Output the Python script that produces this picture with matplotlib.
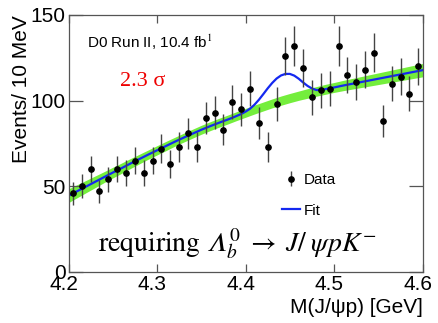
# -*- coding: utf-8 -*-

"""
J/psi p invariant mass spectrum with background band and signal fit.
"""

# *****************************************************************************
# *** Import modules
import numpy as np
import matplotlib
matplotlib.use('Agg')
import matplotlib.pyplot as plt
import matplotlib.transforms as mtransforms
from matplotlib.lines import Line2D
# *****************************************************************************


# *****************************************************************************
# *** Data

# Bin centres of the 10 MeV mass bins [GeV]:
lstMass = [4.205, 4.215, 4.225, 4.235, 4.245, 4.255, 4.265, 4.275, 4.285,
           4.295, 4.305, 4.315, 4.325, 4.335, 4.345, 4.355, 4.365, 4.375,
           4.385, 4.395, 4.405, 4.415, 4.425, 4.435, 4.445, 4.455, 4.465,
           4.475, 4.485, 4.495, 4.505, 4.515, 4.525, 4.535, 4.545, 4.555,
           4.565, 4.575, 4.585, 4.595]

# Events per bin:
lstCounts = [46, 50, 60, 47, 54, 60, 58, 65, 58, 65,
             72, 63, 73, 81, 73, 90, 93, 83, 99, 95,
             107, 87, 73, 98, 126, 132, 119, 102, 106, 107,
             132, 115, 111, 118, 128, 88, 110, 114, 104, 120]

# Background model (centre and half width of the band):
lstBkgMass = [4.20, 4.21, 4.22, 4.23, 4.24, 4.25, 4.26, 4.27, 4.28, 4.29,
              4.30, 4.31, 4.32, 4.33, 4.34, 4.35, 4.36, 4.37, 4.38, 4.39,
              4.40, 4.41, 4.42, 4.43, 4.44, 4.45, 4.46, 4.47, 4.48, 4.49,
              4.50, 4.51, 4.52, 4.53, 4.54, 4.55, 4.56, 4.57, 4.58, 4.59,
              4.60]
lstBkg = [44.5, 47.2, 49.9, 52.6, 55.3, 58.0, 60.6, 63.3, 65.9, 68.5,
          71.0, 73.5, 76.0, 78.4, 80.7, 83.0, 85.1, 87.1, 89.0, 91.0,
          92.9, 94.8, 96.6, 98.4, 100.0, 101.5, 102.9, 104.2, 105.4, 106.6,
          107.7, 108.8, 109.8, 110.8, 111.8, 112.8, 113.8, 114.8, 115.8,
          116.8, 117.8]
lstBkgErr = [4.0, 3.8, 3.6, 3.4, 3.2, 3.1, 3.0, 2.9, 2.8, 2.7,
             2.7, 2.7, 2.6, 2.6, 2.6, 2.6, 2.6, 2.6, 2.6, 2.6,
             2.6, 2.6, 2.6, 2.6, 2.7, 2.7, 2.7, 2.8, 2.8, 2.9,
             2.9, 3.0, 3.1, 3.2, 3.3, 3.4, 3.5, 3.6, 3.7, 3.8,
             3.9]

# Signal + background fit:
lstFitMass = [4.20, 4.21, 4.22, 4.23, 4.24, 4.25, 4.26, 4.27, 4.28, 4.29,
              4.30, 4.31, 4.32, 4.33, 4.34, 4.35, 4.36, 4.37,
              4.380, 4.385, 4.390, 4.395, 4.400, 4.405, 4.410, 4.415,
              4.420, 4.425, 4.430, 4.435, 4.440, 4.445, 4.450, 4.455,
              4.460, 4.465, 4.470, 4.475, 4.480, 4.485, 4.490, 4.495,
              4.500, 4.51, 4.52, 4.53, 4.54, 4.55, 4.56, 4.57, 4.58, 4.59,
              4.60]
lstFit = [44.5, 47.2, 49.9, 52.6, 55.3, 58.0, 60.6, 63.3, 65.9, 68.5,
          71.0, 73.5, 76.0, 78.4, 80.7, 83.0, 85.1, 87.1,
          89.0, 90.0, 91.1, 92.2, 93.6, 95.3, 97.6, 100.5,
          103.8, 107.2, 110.3, 112.9, 114.7, 115.6, 115.6, 114.6,
          112.8, 110.6, 108.6, 107.1, 106.2, 106.2, 106.7, 107.2,
          107.7, 108.8, 109.8, 110.8, 111.8, 112.8, 113.8, 114.8, 115.8,
          116.8, 117.8]

lstXtck = [4.2, 4.3, 4.4, 4.5, 4.6]
lstYtck = [0, 50, 100, 150]
# *****************************************************************************


# *****************************************************************************
# *** Plot

plt.rcParams['font.family'] = ['Liberation Sans', 'DejaVu Sans']
plt.rcParams['mathtext.fontset'] = 'stix'

varDpi = 100.0
fgr01 = plt.figure(figsize=(438.0 / varDpi, 323.0 / varDpi), dpi=varDpi)
axs01 = fgr01.add_axes([0.1564, 0.158, 0.8086, 0.7956])

vecCounts = np.array(lstCounts, dtype=float)
vecBkg = np.array(lstBkg)
vecBkgErr = np.array(lstBkgErr)

# Background band:
axs01.fill_between(lstBkgMass, vecBkg - vecBkgErr, vecBkg + vecBkgErr,
                   color='#74ee3c', linewidth=0, zorder=1)

# Fit curve:
axs01.plot(lstFitMass, lstFit, color='#1428f0', linewidth=1.6,
           solid_joinstyle='round', zorder=2)

# Data with Poisson errors:
axs01.errorbar(lstMass, vecCounts, yerr=np.sqrt(vecCounts), fmt='o',
               color='black', ecolor='#444444', elinewidth=1.0,
               markersize=3.8, capsize=0, zorder=3)

axs01.set_xlim([4.2, 4.6])
axs01.set_ylim([0, 150])
axs01.set_xticks(lstXtck)
axs01.set_xticklabels([str(x) for x in lstXtck])
axs01.set_yticks(lstYtck)

axs01.tick_params(direction='in', top=True, right=True, colors='#555555',
                  labelcolor='black', width=0.9)
axs01.tick_params(axis='x', length=6, labelsize=15, pad=2)
axs01.tick_params(axis='y', length=10, labelsize=15, pad=2)

# Shift x tick labels slightly to the left:
trnShift = mtransforms.ScaledTranslation(-3.5 / 72.0, 0, fgr01.dpi_scale_trans)
for lblTmp in axs01.get_xticklabels():
    lblTmp.set_transform(lblTmp.get_transform() + trnShift)

for strTmp in ['top', 'bottom', 'left', 'right']:
    axs01.spines[strTmp].set_linewidth(0.9)
    axs01.spines[strTmp].set_color('#555555')

axs01.set_xlabel('M(J/ψp) [GeV]', fontsize=15, loc='right')
axs01.xaxis.set_label_coords(1.0, -0.10)
axs01.set_ylabel('Events/ 10 MeV', fontsize=15, loc='top')
axs01.yaxis.set_label_coords(-0.106, 1.0)

# Annotations:
axs01.text(0.0514, 0.892, 'D0 Run II, 10.4 fb$^{1}$', fontsize=11,
           transform=axs01.transAxes, ha='left', va='center')
axs01.text(0.1455, 0.740, '2.3 σ', fontsize=16, color='#ee0000',
           family='Liberation Serif', transform=axs01.transAxes,
           ha='left', va='center')
axs01.text(0.0833, 0.079,
           'requiring $\U0001D6EC_b^0 \\;\\rightarrow\\; J/\\;\\psi p K^{-}$',
           fontsize=20, family='STIXGeneral', transform=axs01.transAxes,
           ha='left', va='baseline')

# Legend:
hndData = axs01.errorbar([], [], yerr=[], fmt='o', color='black',
                         ecolor='#444444', elinewidth=1.0, markersize=3.8)
hndFit = Line2D([], [], color='#1428f0', linewidth=1.6)
axs01.legend([hndData, hndFit], ['Data', 'Fit'], loc='upper left',
             bbox_to_anchor=(0.603, 0.385), frameon=False, fontsize=11,
             handlelength=1.2, handletextpad=0.25, labelspacing=1.1,
             borderpad=0, borderaxespad=0)

fgr01.savefig('out.png', dpi=varDpi, facecolor='w')
plt.close(fgr01)
# *****************************************************************************
